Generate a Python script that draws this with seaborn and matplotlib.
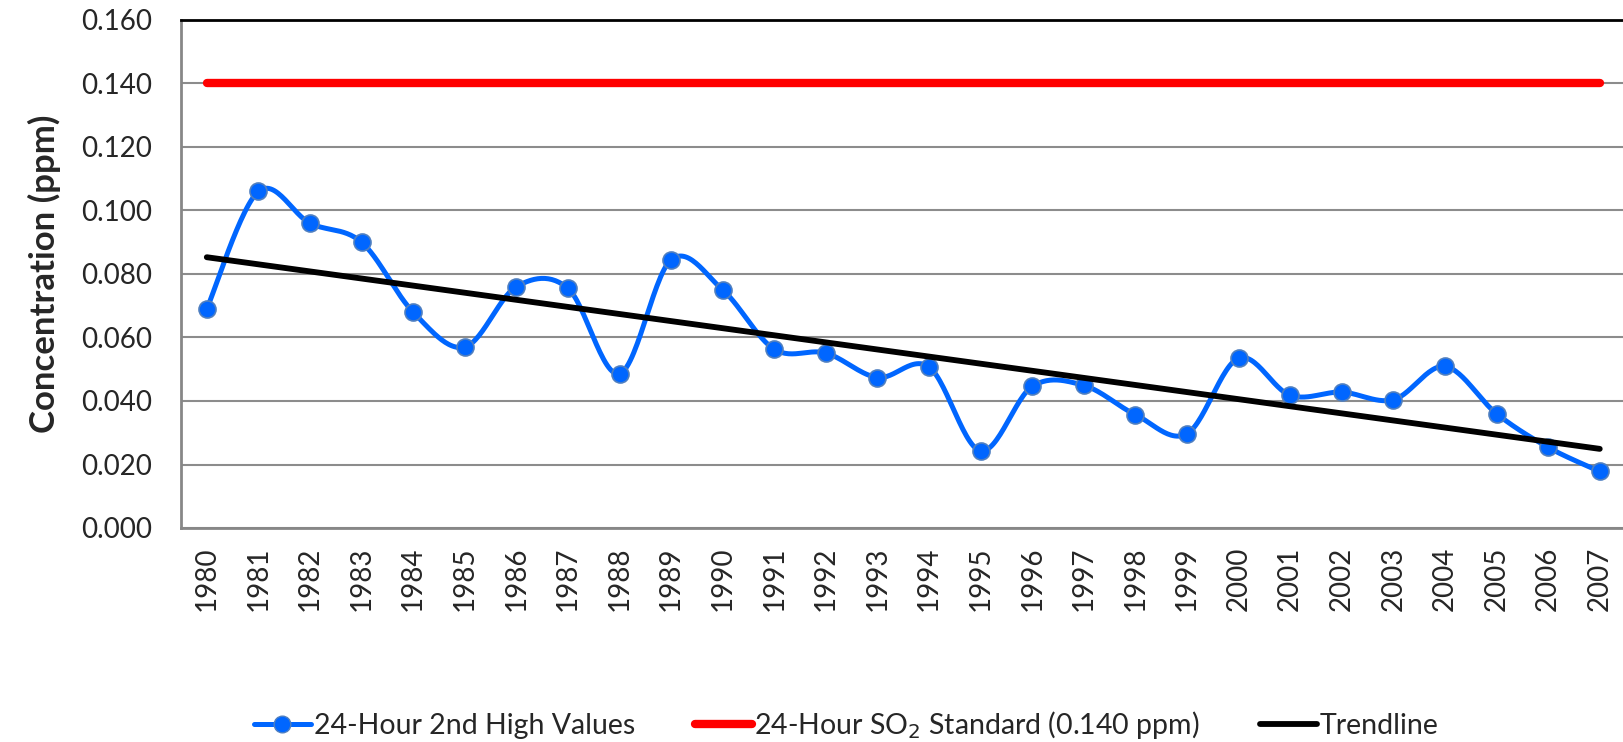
import numpy as np
import pandas as pd
import seaborn as sns
import matplotlib.pyplot as plt
from matplotlib.lines import Line2D

# Data
years = list(range(1980, 2008))
second_high = [0.069, 0.106, 0.096, 0.090, 0.068, 0.057, 0.076, 0.0755,
               0.0486, 0.0845, 0.075, 0.0563, 0.0551, 0.0474, 0.0507, 0.0243,
               0.0446, 0.0449, 0.0357, 0.0297, 0.0535, 0.0418, 0.0428, 0.0404,
               0.0509, 0.036, 0.0254, 0.0178]
standard = 0.140
y_ticks = [0.0, 0.02, 0.04, 0.06, 0.08, 0.10, 0.12, 0.14, 0.16]

BLUE = '#0066ff'
GRID = '#8c8c8c'

sns.set_theme(style='white')
plt.rcParams['font.family'] = ['Lato', 'DejaVu Sans']

df = pd.DataFrame({'idx': np.arange(len(years)), 'value': second_high})

# linear trendline fitted to the series
slope, icpt = np.polyfit(df['idx'], df['value'], 1)
df['trend'] = icpt + slope * df['idx']
df['standard'] = standard


def smooth(x, y, n=30):
    # Excel-style smoothed line (Catmull-Rom as cubic Bezier)
    x = np.asarray(x, float)
    y = np.asarray(y, float)
    px = np.concatenate([[x[0]], x, [x[-1]]])
    py = np.concatenate([[y[0]], y, [y[-1]]])
    xs, ys = [], []
    t = np.linspace(0, 1, n)
    for i in range(1, len(px) - 2):
        p0 = np.array([px[i], py[i]])
        p3 = np.array([px[i + 1], py[i + 1]])
        c1 = p0 + (np.array([px[i + 1], py[i + 1]]) - np.array([px[i - 1], py[i - 1]])) / 6
        c2 = p3 - (np.array([px[i + 2], py[i + 2]]) - np.array([px[i], py[i]])) / 6
        b = ((1 - t) ** 3)[:, None] * p0 + (3 * (1 - t) ** 2 * t)[:, None] * c1 \
            + (3 * (1 - t) * t ** 2)[:, None] * c2 + (t ** 3)[:, None] * p3
        xs.extend(b[:, 0])
        ys.extend(b[:, 1])
    return np.array(xs), np.array(ys)


fig = plt.figure(figsize=(16.24, 7.42), dpi=100)
ax = fig.add_axes([181 / 1624, 1 - 528 / 742, 1 - 181 / 1624, (528 - 20) / 742])

ax.yaxis.grid(True, color=GRID, linewidth=1.5)
ax.set_axisbelow(True)

sns.lineplot(data=df, x='idx', y='standard', color='red', linewidth=6,
             solid_capstyle='round', ax=ax, legend=False)

sx, sy = smooth(df['idx'], df['value'])
ax.plot(sx, sy, color=BLUE, linewidth=3.6, solid_capstyle='round', zorder=3)
sns.scatterplot(data=df, x='idx', y='value', color=BLUE, s=150,
                edgecolor='#4f7fc0', linewidth=1.2, zorder=4, ax=ax, legend=False)

sns.lineplot(data=df, x='idx', y='trend', color='black', linewidth=4.2,
             solid_capstyle='round', ax=ax, legend=False, zorder=5)

ax.set_xlim(-0.5, 27.47)
ax.set_ylim(0, 0.16)
ax.set_yticks(y_ticks)
ax.set_yticklabels([f'{v:.3f}' for v in y_ticks], fontsize=20)
ax.set_xticks(df['idx'])
ax.set_xticklabels([str(y) for y in years], rotation=90, fontsize=20)
ax.tick_params(axis='x', direction='inout', length=11, width=1.5, color='#888888', pad=8)
ax.tick_params(axis='y', length=0, pad=21)
ax.set_xlabel('')
ax.set_ylabel('Concentration (ppm)', fontsize=25, fontweight='bold', labelpad=14)

for side in ['left', 'bottom']:
    ax.spines[side].set_color('#878787')
    ax.spines[side].set_linewidth(2)
ax.spines['top'].set_color('black')
ax.spines['top'].set_linewidth(2)
ax.spines['right'].set_color('#d0d0d0')
ax.spines['right'].set_linewidth(1)

handles = [
    Line2D([], [], color=BLUE, linewidth=3.6, marker='o', markersize=12,
           markeredgecolor='#4f7fc0'),
    Line2D([], [], color='red', linewidth=6, solid_capstyle='round'),
    Line2D([], [], color='black', linewidth=4.2, solid_capstyle='round'),
]
labels = ['24-Hour 2nd High Values', '24-Hour SO$_2$ Standard (0.140 ppm)', 'Trendline']
fig.legend(handles, labels, loc='center', bbox_to_anchor=(0.521, 1 - 725 / 742),
           ncol=3, frameon=False, fontsize=20.5, handlelength=2.0,
           handletextpad=0.1, columnspacing=2.1)

fig.savefig('out.png', dpi=100)
